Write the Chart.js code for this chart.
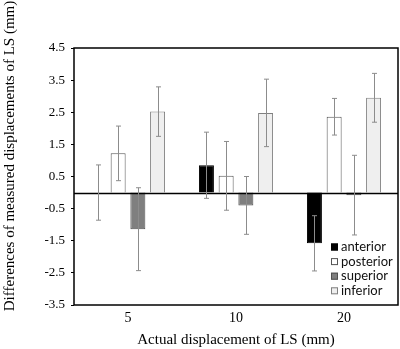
<!DOCTYPE html>
<html>
<head>
<meta charset="utf-8">
<script src="https://cdn.jsdelivr.net/npm/chart.js@4/dist/chart.umd.min.js"></script>
<style>
  html, body { margin: 0; padding: 0; background: #fff; }
  #wrap { width: 400px; height: 349px; }
</style>
</head>
<body>
<div id="wrap"><canvas id="chart-1" width="400" height="349"></canvas></div>
<script>
// values (mm)
var categories = ["5", "10", "20"];
var series_names = ["anterior", "posterior", "superior", "inferior"];
var anterior_mean = [0.0, 0.85, -1.58];
var anterior_sd = [0.86, 1.03, 0.86];
var posterior_mean = [1.22, 0.52, 2.36];
var posterior_sd = [0.85, 1.07, 0.57];
var superior_mean = [-1.14, -0.40, -0.08];
var superior_sd = [1.29, 0.90, 1.24];
var inferior_mean = [2.52, 2.48, 2.95];
var inferior_sd = [0.77, 1.05, 0.76];
var y_ticks = [-3.5, -2.5, -1.5, -0.5, 0.5, 1.5, 2.5, 3.5, 4.5];

var sd_list = [anterior_sd, posterior_sd, superior_sd, inferior_sd];
var fills = ["#000000", "#ffffff", "#7f7f7f", "#efefef"];
var borders = ["#000000", "#555555", "#505050", "#808080"];

// error bars + frame + legend + y title
var extras = {
  id: "extras",
  afterDatasetsDraw: function (chart) {
    var ctx = chart.ctx;
    var y = chart.scales.y;
    var area = chart.chartArea;
    // zero line
    ctx.save();
    ctx.strokeStyle = "#000";
    ctx.lineWidth = 1.5;
    ctx.beginPath();
    var y0 = Math.round(y.getPixelForValue(0)) + 0.5;
    ctx.moveTo(area.left, y0);
    ctx.lineTo(area.right, y0);
    ctx.stroke();
    // error bars
    ctx.strokeStyle = "#8c8c8c";
    ctx.lineWidth = 1;
    chart.data.datasets.forEach(function (ds, i) {
      var meta = chart.getDatasetMeta(i);
      meta.data.forEach(function (bar, j) {
        var m = ds.data[j];
        var s = sd_list[i][j];
        var x = Math.round(bar.x) + 0.5;
        var yt = y.getPixelForValue(m + s);
        var yb = y.getPixelForValue(m - s);
        ctx.beginPath();
        ctx.moveTo(x, yt); ctx.lineTo(x, yb);
        ctx.moveTo(x - 2.5, yt); ctx.lineTo(x + 2.5, yt);
        ctx.moveTo(x - 2.5, yb); ctx.lineTo(x + 2.5, yb);
        ctx.stroke();
      });
    });
    // frame
    ctx.strokeStyle = "#000";
    ctx.lineWidth = 1.5;
    ctx.strokeRect(area.left, area.top, area.right - area.left, area.bottom - area.top);
    // legend inside plot
    ctx.font = "13px Lato, 'Open Sans', sans-serif";
    ctx.textBaseline = "middle";
    ctx.textAlign = "left";
    chart.data.datasets.forEach(function (ds, i) {
      var ly = 247 + i * 14.6;
      ctx.fillStyle = ds.backgroundColor;
      ctx.fillRect(331, ly - 3.5, 7, 7);
      ctx.strokeStyle = ds.borderColor;
      ctx.lineWidth = 1;
      ctx.strokeRect(331.5, ly - 3, 6, 6);
      ctx.fillStyle = "#111";
      ctx.fillText(ds.label, 341, ly);
    });
    // y title
    ctx.translate(10, 156);
    ctx.rotate(-Math.PI / 2);
    ctx.textAlign = "center";
    ctx.font = "15px 'Liberation Serif', serif";
    ctx.fillStyle = "#000";
    ctx.fillText("Differences of measured displacements of LS (mm)", 0, 0);
    ctx.restore();
  }
};

var datasets = [anterior_mean, posterior_mean, superior_mean, inferior_mean].map(function (d, i) {
  return {
    label: series_names[i],
    data: d,
    backgroundColor: fills[i],
    borderColor: borders[i],
    borderWidth: 1,
    categoryPercentage: 0.73,
    barPercentage: 0.76
  };
});

const ctx = document.getElementById("chart-1").getContext("2d");
const myChart = new Chart(ctx, {
  type: "bar",
  data: { labels: categories, datasets: datasets },
  plugins: [extras],
  options: {
    responsive: false,
    animation: false,
    layout: { padding: { top: 48, right: 2, left: 0, bottom: 0 } },
    plugins: { legend: { display: false }, tooltip: { enabled: false } },
    scales: {
      x: {
        grid: { display: false, drawTicks: false },
        border: { display: false },
        ticks: { color: "#000", font: { family: "'Liberation Serif', serif", size: 14 }, padding: 5 },
        title: {
          display: true,
          text: "Actual displacement of LS (mm)",
          color: "#000",
          font: { family: "'Liberation Serif', serif", size: 15 },
          padding: { top: 5, bottom: 0 }
        },
        afterFit: function (s) { s.height = 44; }
      },
      y: {
        min: -3.5,
        max: 4.5,
        afterBuildTicks: function (s) {
          s.ticks = y_ticks.map(function (v) { return { value: v }; });
        },
        grid: { display: true, drawOnChartArea: false, tickLength: 3, color: "#000" },
        border: { display: false },
        ticks: {
          color: "#000",
          font: { family: "'Liberation Serif', serif", size: 13 },
          padding: 6,
          callback: function (v) { return v.toFixed(1); }
        },
        afterFit: function (s) { s.width = 74; }
      }
    }
  }
});
</script>
</body>
</html>
